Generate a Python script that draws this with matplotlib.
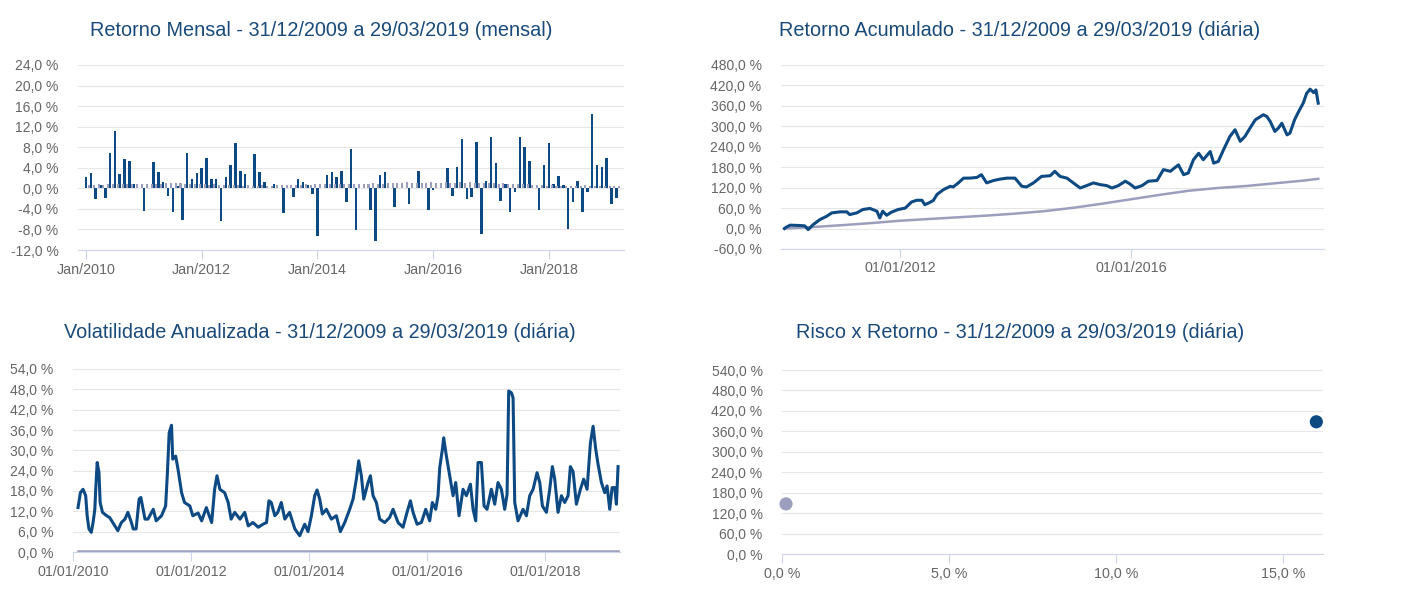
import matplotlib
matplotlib.use('Agg')
import matplotlib.pyplot as plt
from matplotlib.ticker import MultipleLocator, FuncFormatter, FixedLocator
import numpy as np

plt.rcParams['font.family'] = ['Liberation Sans', 'DejaVu Sans']

# ---------------- DATA ----------------
titles = [
    "Retorno Mensal - 31/12/2009 a 29/03/2019 (mensal)",
    "Retorno Acumulado - 31/12/2009 a 29/03/2019 (diária)",
    "Volatilidade Anualizada - 31/12/2009 a 29/03/2019 (diária)",
    "Risco x Retorno - 31/12/2009 a 29/03/2019 (diária)",
]

# Monthly returns (%), Jan/2010 .. Mar/2019
monthly_fund = [
    2.3, 3.0, -2.0, 0.7, -1.9, 6.9, 11.2, 2.7, 5.8, 5.3, 0.9, 0.1,
    -4.4, 0.1, 5.1, 3.2, 1.2, -1.4, -4.7, 0.4, -6.2, 6.8, 1.8, 3.0,
    4.0, 6.0, 1.9, 1.9, -6.4, 2.2, 4.5, 8.8, 3.4, 2.7, 0.1, 6.6,
    3.2, 1.2, 0.1, 0.8, 0.1, -4.8, 0.1, -1.6, 1.9, 1.2, 0.7, -1.1,
    -9.3, 0.1, 2.6, 3.2, 2.2, 3.4, -2.7, 7.7, -8.1, 0.0, 0.0, -4.2,
    -10.3, 2.6, 3.2, 0.1, -3.7, 0.0, 0.0, -3.1, 0.0, 3.4, 0.0, -4.2,
    -0.3, 0.0, 0.0, 4.0, -1.4, 4.1, 9.6, -2.1, -1.7, 9.1, -8.8, 1.5,
    10.0, 5.0, -2.4, 0.9, -4.7, -0.8, 10.0, 8.1, 5.3, 0.0, -4.2, 4.5,
    8.8, 0.8, 2.4, 0.6, -8.0, -2.7, 1.4, -4.7, -0.8, 14.4, 4.5, 4.2,
    6.0, -3.1, -1.8,
]
monthly_bench = [
    0.66, 0.59, 0.76, 0.66, 0.75, 0.79, 0.86, 0.89, 0.85, 0.81, 0.81, 0.93,
    0.86, 0.84, 0.92, 0.84, 0.99, 0.95, 0.97, 1.07, 0.94, 0.88, 0.86, 0.91,
    0.89, 0.74, 0.81, 0.70, 0.73, 0.64, 0.68, 0.69, 0.54, 0.61, 0.55, 0.53,
    0.59, 0.48, 0.54, 0.60, 0.58, 0.59, 0.71, 0.69, 0.70, 0.80, 0.71, 0.78,
    0.84, 0.78, 0.76, 0.81, 0.86, 0.82, 0.94, 0.86, 0.90, 0.94, 0.84, 0.95,
    0.93, 0.82, 1.04, 0.95, 0.98, 1.06, 1.18, 1.11, 1.11, 1.11, 1.05, 1.16,
    1.05, 1.00, 1.16, 1.05, 1.11, 1.16, 1.11, 1.21, 1.11, 1.05, 1.04, 1.12,
    1.09, 0.86, 1.05, 0.79, 0.93, 0.81, 0.80, 0.80, 0.64, 0.64, 0.57, 0.54,
    0.58, 0.46, 0.53, 0.52, 0.52, 0.52, 0.54, 0.57, 0.47, 0.54, 0.49, 0.49,
    0.54, 0.49, 0.47,
]
month_tick_idx = [0, 24, 48, 72, 96]
month_tick_labels = ["Jan/2010", "Jan/2012", "Jan/2014", "Jan/2016", "Jan/2018"]

# Cumulative return (%), x in decimal years
cum_t = [2010.00, 2010.03, 2010.10, 2010.25, 2010.35, 2010.41, 2010.50, 2010.61, 2010.73,
         2010.82, 2010.96, 2011.08, 2011.13, 2011.25, 2011.36, 2011.48, 2011.60, 2011.65,
         2011.70, 2011.77, 2011.85, 2011.97, 2012.09, 2012.20, 2012.29, 2012.38, 2012.43,
         2012.52, 2012.58, 2012.64, 2012.75, 2012.87, 2012.92, 2013.01, 2013.10, 2013.21,
         2013.33, 2013.41, 2013.50, 2013.62, 2013.73, 2013.85, 2013.99, 2014.11, 2014.19,
         2014.31, 2014.45, 2014.60, 2014.68, 2014.77, 2014.89, 2015.00, 2015.12, 2015.23,
         2015.35, 2015.46, 2015.58, 2015.67, 2015.78, 2015.90, 2015.98, 2016.07, 2016.19,
         2016.30, 2016.45, 2016.56, 2016.68, 2016.82, 2016.91, 2016.99, 2017.08, 2017.17,
         2017.25, 2017.37, 2017.43, 2017.51, 2017.60, 2017.71, 2017.80, 2017.89, 2017.97,
         2018.06, 2018.15, 2018.29, 2018.35, 2018.41, 2018.49, 2018.55, 2018.61, 2018.70,
         2018.75, 2018.83, 2018.90, 2018.98, 2019.04, 2019.10, 2019.16, 2019.20, 2019.24]
cum_fund = [0, 4, 10, 9, 8, -3, 12, 26, 36,
            46, 49, 49, 41, 46, 56, 59, 51, 31,
            51, 39, 48, 56, 60, 78, 83, 83, 70,
            77, 83, 100, 114, 124, 122, 134, 148, 148,
            150, 158, 134, 141, 145, 148, 148, 124, 122,
            134, 153, 155, 168, 153, 148, 134, 119, 126,
            134, 129, 126, 119, 126, 139, 131, 119, 126,
            139, 141, 173, 168, 187, 158, 163, 202, 221,
            202, 226, 192, 197, 231, 270, 290, 256, 270,
            295, 319, 334, 329, 314, 285, 295, 309, 275,
            280, 319, 343, 368, 397, 409, 399, 407, 368]
bench_t = [2010.0, 2010.5, 2011.0, 2011.5, 2012.0, 2012.5, 2013.0, 2013.5, 2014.0, 2014.5,
           2015.0, 2015.5, 2016.0, 2016.5, 2017.0, 2017.5, 2018.0, 2018.5, 2019.0, 2019.24]
cum_bench = [0, 4.5, 10, 16, 23, 28, 33, 38, 44, 51,
             61, 73, 86, 99, 111, 119, 125, 133, 141, 146]
cum_tick_t = [2012.0, 2016.0]
cum_tick_labels = ["01/01/2012", "01/01/2016"]

# Annualised volatility (%), x in decimal years
vol_t = [2010.085, 2010.125, 2010.17, 2010.215, 2010.24, 2010.27, 2010.31, 2010.34, 2010.37,
         2010.385, 2010.41, 2010.44, 2010.46, 2010.50, 2010.57, 2010.62, 2010.71, 2010.76,
         2010.82, 2010.88, 2010.93, 2010.99, 2011.02, 2011.07, 2011.12, 2011.15, 2011.22,
         2011.27, 2011.36, 2011.41, 2011.50, 2011.57, 2011.60, 2011.63, 2011.67, 2011.69,
         2011.74, 2011.78, 2011.84, 2011.89, 2011.98, 2012.03, 2012.12, 2012.18, 2012.26,
         2012.35, 2012.40, 2012.44, 2012.49, 2012.57, 2012.63, 2012.68, 2012.74, 2012.83,
         2012.91, 2012.97, 2013.05, 2013.14, 2013.22, 2013.28, 2013.32, 2013.36, 2013.42,
         2013.47, 2013.53, 2013.59, 2013.67, 2013.76,
         2013.842, 2013.927, 2013.983, 2014.040, 2014.096, 2014.136, 2014.181, 2014.226,
         2014.294, 2014.379, 2014.463, 2014.531, 2014.605, 2014.689, 2014.746, 2014.802,
         2014.842, 2014.887, 2014.927, 2015.000, 2015.040, 2015.085, 2015.141, 2015.198,
         2015.283, 2015.367, 2015.424, 2015.509, 2015.593, 2015.661, 2015.718, 2015.763,
         2015.831, 2015.904, 2015.978, 2016.045, 2016.090, 2016.147, 2016.186, 2016.215,
         2016.260, 2016.282, 2016.328, 2016.384, 2016.441, 2016.486, 2016.542, 2016.610,
         2016.667, 2016.735, 2016.780, 2016.825, 2016.864, 2016.921, 2016.966, 2017.017,
         2017.090, 2017.147, 2017.203, 2017.260, 2017.316, 2017.356, 2017.384, 2017.429,
         2017.458, 2017.486, 2017.542, 2017.627, 2017.684, 2017.740, 2017.797, 2017.864,
         2017.910, 2017.955, 2018.023, 2018.079, 2018.124, 2018.164, 2018.220, 2018.277,
         2018.333, 2018.390, 2018.429, 2018.475, 2018.531, 2018.599, 2018.655, 2018.712,
         2018.769, 2018.814, 2018.859, 2018.898, 2018.955, 2019.011, 2019.051, 2019.096,
         2019.136, 2019.181, 2019.209, 2019.237]
vol_fund = [13.1, 17.5, 18.5, 16.6, 10.7, 6.8, 5.8, 8.7, 12.6,
            18.5, 26.4, 23.4, 14.6, 11.7, 10.7, 10.2, 7.7, 6.3,
            8.7, 9.7, 11.7, 8.7, 6.8, 6.8, 15.6, 16.1, 9.7,
            9.7, 12.6, 9.2, 10.7, 13.6, 23.4, 35.2, 37.4, 27.4,
            28.3, 24.4, 17.5, 14.6, 13.6, 10.7, 11.5, 9.2, 13.1,
            8.7, 18.5, 22.5, 18.5, 17.5, 14.6, 9.7, 11.7, 9.7,
            11.7, 7.7, 8.7, 7.3, 8.2, 8.7, 15.1, 14.6, 10.7,
            11.7, 14.6, 9.7, 11.7, 6.8,
            4.8, 8.2, 6.0, 10.7, 16.6, 18.3, 15.6, 11.2,
            12.6, 9.7, 10.7, 6.0, 8.7, 12.6, 15.6, 21.5,
            26.9, 22.5, 15.6, 20.5, 22.5, 16.6, 14.6, 9.7,
            8.7, 10.2, 12.6, 8.7, 7.3, 11.7, 15.1, 11.7,
            8.2, 8.7, 12.6, 9.2, 14.6, 12.6, 16.6, 24.9,
            30.3, 33.7, 28.3, 22.5, 16.6, 20.5, 10.7, 18.5,
            16.6, 20.0, 12.6, 9.2, 26.4, 26.4, 13.6, 12.6,
            18.5, 14.1, 20.5, 18.5, 12.6, 17.0, 47.5, 47.0,
            45.5, 14.6, 9.2, 12.6, 10.7, 16.6, 18.5, 23.4,
            20.5, 13.6, 11.7, 18.5, 25.2, 21.5, 11.7, 16.6,
            14.6, 16.6, 25.2, 23.7, 14.1, 18.5, 21.5, 18.5,
            32.2, 37.1, 30.3, 25.9, 20.5, 17.5, 19.5, 12.6,
            19.0, 19.0, 14.1, 25.2]
vol_bench_t = [2010.085, 2012.0, 2014.0, 2016.0, 2018.0, 2019.237]
vol_bench = [0.3, 0.3, 0.3, 0.3, 0.3, 0.3]
vol_tick_t = [2010.0, 2012.0, 2014.0, 2016.0, 2018.0]
vol_tick_labels = ["01/01/2010", "01/01/2012", "01/01/2014", "01/01/2016", "01/01/2018"]

# Risk x Return
risk = [0.12, 16.0]
ret = [147.0, 388.0]
rr_ticks = [0, 5, 10, 15]

# ---------------- STYLE ----------------
DARK = '#0d4a83'
LIGHT = '#9b9fbd'
TITLE_C = '#1a4a7a'
GRID = '#e6e6e6'
AXIS = '#ccd6eb'
LABEL = '#666666'

W, H = 1404, 597
fig = plt.figure(figsize=(W / 100, H / 100), dpi=100)


def add_ax(x0, x1, y0, y1):
    return fig.add_axes([x0 / W, 1 - y1 / H, (x1 - x0) / W, (y1 - y0) / H])


def pct(v, pos=None):
    return f"{v:.1f}".replace('.', ',') + " %"


def style(ax, ymin, ymax, ystep):
    for s in ['top', 'right', 'left']:
        ax.spines[s].set_visible(False)
    ax.spines['bottom'].set_color(AXIS)
    ax.spines['bottom'].set_linewidth(0.8)
    ax.set_ylim(ymin, ymax)
    ax.yaxis.set_major_locator(MultipleLocator(ystep))
    ax.yaxis.set_major_formatter(FuncFormatter(pct))
    ax.grid(axis='y', color=GRID, lw=0.8)
    ax.grid(axis='x', visible=False)
    ax.set_axisbelow(True)
    ax.tick_params(axis='y', length=0, pad=14, labelsize=10, labelcolor=LABEL)
    ax.tick_params(axis='x', length=6.5, width=0.8, color=AXIS, pad=2.5,
                   labelsize=10.3, labelcolor=LABEL, direction='out')
    ax.set_facecolor('none')


# Titles
TFS = 14.3
fig.text(321 / W, 1 - 30 / H, titles[0], ha='center', va='center', fontsize=TFS, color=TITLE_C)
fig.text(1020 / W, 1 - 30 / H, titles[1], ha='center', va='center', fontsize=TFS, color=TITLE_C)
fig.text(320 / W, 1 - 333 / H, titles[2], ha='center', va='center', fontsize=TFS, color=TITLE_C)
fig.text(1020 / W, 1 - 333 / H, titles[3], ha='center', va='center', fontsize=TFS, color=TITLE_C)

# 1) Monthly returns
ax1 = add_ax(78, 624, 65, 250)
style(ax1, -12, 24, 4)
idx = np.arange(len(monthly_fund))
ax1.bar(idx, monthly_fund, width=0.52, color=DARK, linewidth=0, zorder=2)
ax1.bar(idx + 0.6, monthly_bench, width=0.42, color=LIGHT, linewidth=0, zorder=2)
ax1.set_xlim(-1.66, 111.6)
ax1.xaxis.set_major_locator(FixedLocator(month_tick_idx))
ax1.set_xticklabels(month_tick_labels)

# 2) Cumulative return
ax2 = add_ax(781, 1324, 65, 249)
style(ax2, -60, 480, 60)
ax2.plot(bench_t, cum_bench, color=LIGHT, lw=1.8, zorder=2)
ax2.plot(cum_t, cum_fund, color=DARK, lw=2.2, zorder=3)
ax2.set_xlim(2009.94, 2019.34)
ax2.xaxis.set_major_locator(FixedLocator(cum_tick_t))
ax2.set_xticklabels(cum_tick_labels)

# 3) Volatility
ax3 = add_ax(73, 620, 369, 552)
style(ax3, 0, 54, 6)
ax3.plot(vol_bench_t, vol_bench, color=LIGHT, lw=1.8, zorder=2, clip_on=False)
ax3.plot(vol_t, vol_fund, color=DARK, lw=2.2, zorder=3)
ax3.set_xlim(2010.0, 2019.27)
ax3.xaxis.set_major_locator(FixedLocator(vol_tick_t))
ax3.set_xticklabels(vol_tick_labels)

# 4) Risk x Return
ax4 = add_ax(782, 1323, 370, 554)
style(ax4, 0, 540, 60)
ax4.scatter(risk, ret, s=90, c=[LIGHT, DARK], zorder=3, clip_on=False, linewidths=0)
ax4.set_xlim(0, 16.2)
ax4.xaxis.set_major_locator(FixedLocator(rr_ticks))
ax4.xaxis.set_major_formatter(FuncFormatter(pct))

fig.savefig('out.png', dpi=100)
